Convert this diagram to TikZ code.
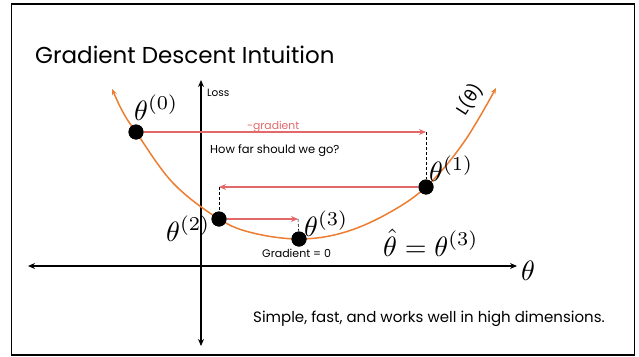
\documentclass[tikz,border=0pt]{standalone}
\usepackage{graphicx}
\usepackage[no-math]{fontspec}
\setmainfont{Poppins}
\newfontfamily\dejavu{DejaVu Sans}
\usetikzlibrary{arrows.meta}
\definecolor{curveor}{RGB}{237,125,49}
\definecolor{gradred}{RGB}{226,104,106}
\newcommand{\bigmathlbl}[1]{\scalebox{2.8}{$#1$}}
\begin{document}
\begin{tikzpicture}[x=1pt,y=-1pt,
  axis/.style={line width=1.4pt,{Stealth[length=7pt,width=6pt]}-{Stealth[length=7pt,width=6pt]}},
  lcurve/.style={curveor,line width=1.5pt,{Stealth[length=6pt,width=5pt]}-{Stealth[length=6pt,width=5pt]}},
  redarrow/.style={gradred,line width=1.8pt,-{Stealth[length=7pt,width=6pt]}},
  dashline/.style={black,line width=0.6pt,densely dashed},
  dot/.style={circle,fill=black,inner sep=0pt,minimum size=15pt},
  mathlbl/.style={inner sep=0pt},
  smalltxt/.style={inner sep=0pt,anchor=base west}]
\useasboundingbox (0,0) rectangle (639,356);
\node[draw=black,line width=1.5pt,minimum width=623pt,minimum height=351pt,anchor=north west,inner sep=0pt] (frame) at (10.5,3) {};
% title
\node[smalltxt,font=\fontsize{23}{28}\selectfont] (title) at (35,63) {Gradient Descent Intuition};
% axes
\coordinate (xl) at (28,266);
\coordinate (xr) at (517,266);
\coordinate (yt) at (201,80);
\coordinate (yb) at (201,346);
\draw[axis] (xl) -- (xr);
\draw[axis] (yb) -- (yt);
\node[smalltxt,font=\fontsize{10.5}{12}\selectfont] (loss) at (207,96) {Loss};
\node[mathlbl,anchor=base west] (thax) at (521,280) {\bigmathlbl{\theta}};
% curve
\draw[lcurve] plot[smooth,tension=0.6] coordinates {(112,89) (124,114) (136,132) (173,183) (219,219) (253,233) (299,239) (342,233) (385,215) (426,187) (464,142) (496,88)};
\node[rotate=57,font=\fontsize{17}{19}\selectfont,inner sep=0pt] (Lth) at (469,99) {L({\dejavu θ})};
% points
\coordinate (c1) at (426,132);
\coordinate (c2) at (219,187);
\coordinate (c3) at (298,219);
\node[dot] (t0) at (136,132) {};
\node[dot] (t1) at (426,187) {};
\node[dot] (t2) at (219,219) {};
\node[dot] (t3) at (299,239) {};
\draw[redarrow] (t0) -- (c1);
\draw[dashline] (c1) -- (t1);
\draw[redarrow] (t1) -- (c2);
\draw[dashline] (c2) -- (t2);
\draw[redarrow] (t2) -- (c3);
\draw[dashline] (c3) -- (t3);
\node[dot] at (t0) {};
\node[dot] at (t1) {};
\node[dot] at (t2) {};
\node[dot] at (t3) {};
% labels
\node[smalltxt,font=\fontsize{10.8}{12}\selectfont,text=gradred] (grad) at (247,129) {-gradient};
\node[smalltxt,font=\fontsize{11.5}{13}\selectfont] (far) at (210,153) {How far should we go?};
\node[smalltxt,font=\fontsize{11}{13}\selectfont] (g0) at (262,257) {Gradient = 0};
\node[mathlbl,anchor=base west] (l0) at (134,120) {\bigmathlbl{\theta^{(0)}}};
\node[mathlbl,anchor=base west] (l1) at (429,181) {\bigmathlbl{\theta^{(1)}}};
\node[mathlbl,anchor=base west] (l2) at (166,241) {\bigmathlbl{\theta^{(2)}}};
\node[mathlbl,anchor=base west] (l3) at (304,236) {\bigmathlbl{\theta^{(3)}}};
\node[mathlbl,anchor=base west] (lh) at (383,256) {\bigmathlbl{\hat{\theta}=\theta^{(3)}}};
\node[smalltxt,font=\fontsize{15}{18}\selectfont] (simple) at (253,322) {Simple, fast, and works well in high dimensions.};
\end{tikzpicture}
\end{document}
